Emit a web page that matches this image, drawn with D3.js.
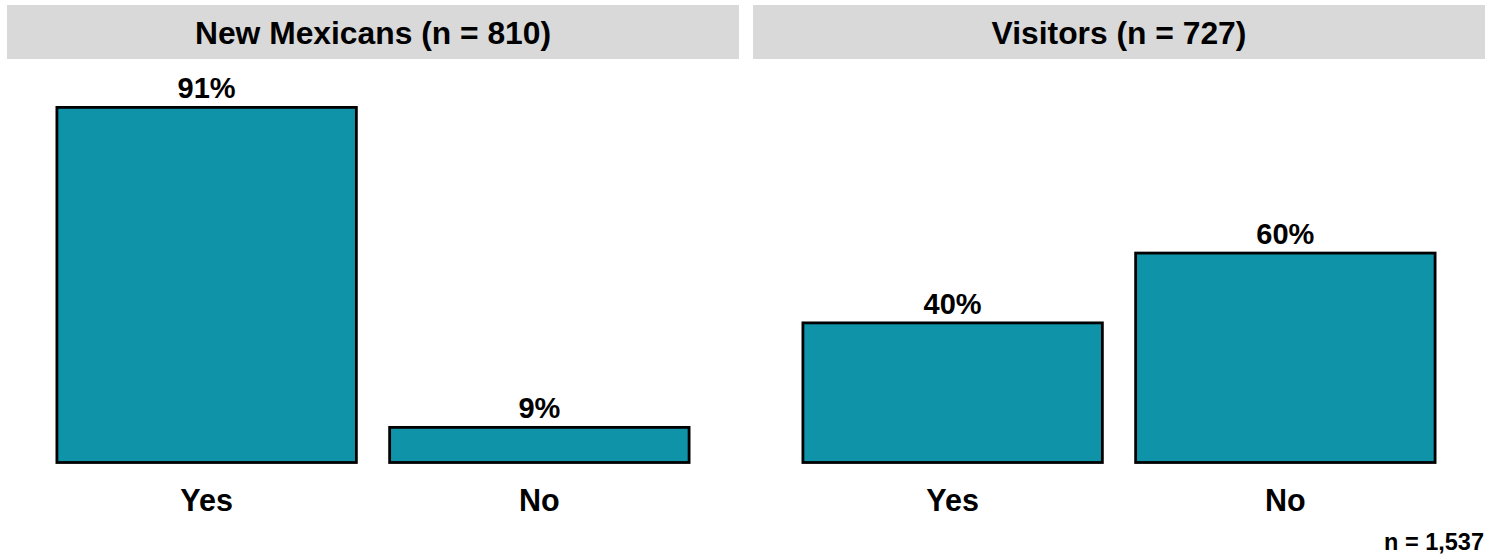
<!DOCTYPE html>
<html><head><meta charset="utf-8">
<script src="https://cdn.jsdelivr.net/npm/d3@7"></script>
<style>
html,body{margin:0;padding:0;background:#fff;}
svg{display:block;font-family:"Liberation Sans",Arial,sans-serif;}
</style></head>
<body>
<svg id="chart" width="1498" height="557"></svg>
<script>
const panels = ["New Mexicans (n = 810)", "Visitors (n = 727)"];
const categories = ["Yes", "No"];
const newMexicans = [91, 9];
const visitors = [40, 60];
const series = [newMexicans, visitors];
const yMaxes = [103.4, 115.6];
const footnote = "n = 1,537";

const svg = d3.select("#chart");
const stripTop = 5, stripH = 54, baseY = 462.5, plotTop = 59;
const panelX = [[7, 739], [753, 1485]];
const fill = "#0e93a8";

panels.forEach((title, i) => {
  const [x0, x1] = panelX[i];
  const g = svg.append("g");
  g.append("rect").attr("x", x0).attr("y", stripTop).attr("width", x1 - x0).attr("height", stripH).attr("fill", "#d9d9d9");
  g.append("text").attr("x", (x0 + x1) / 2).attr("y", 44).attr("text-anchor", "middle")
    .attr("font-size", 31.8).attr("font-weight", "bold").attr("fill", "#000").text(title);

  const x = d3.scaleBand().domain(categories).range([x0, x1]).paddingInner(0.1).paddingOuter(0.15);
  const y = d3.scaleLinear().domain([0, yMaxes[i]]).range([baseY, plotTop]);
  const data = categories.map((c, j) => ({c, v: series[i][j]}));

  g.selectAll("rect.bar").data(data).join("rect").attr("class", "bar")
    .attr("x", d => x(d.c)).attr("width", x.bandwidth())
    .attr("y", d => y(d.v)).attr("height", d => y(0) - y(d.v))
    .attr("fill", fill).attr("stroke", "#000").attr("stroke-width", 2.8);

  g.selectAll("text.val").data(data).join("text").attr("class", "val")
    .attr("x", d => x(d.c) + x.bandwidth() / 2).attr("y", d => y(d.v) - 9)
    .attr("text-anchor", "middle").attr("font-size", 29).attr("font-weight", "bold").attr("fill", "#000")
    .text(d => d.v + "%");

  const axis = d3.axisBottom(x).tickSize(0).tickPadding(0);
  const ag = g.append("g").attr("transform", `translate(0,${baseY})`).call(axis);
  ag.select(".domain").remove();
  ag.selectAll("text").attr("dy", null).attr("y", 48.5).attr("font-size", 30.5).attr("font-weight", "bold")
    .attr("fill", "#000").attr("font-family", "Liberation Sans, Arial, sans-serif");
});

svg.append("text").attr("x", 1484).attr("y", 550).attr("text-anchor", "end")
  .attr("font-size", 23.5).attr("font-weight", "bold").attr("fill", "#000").text(footnote);
</script>
</body></html>
